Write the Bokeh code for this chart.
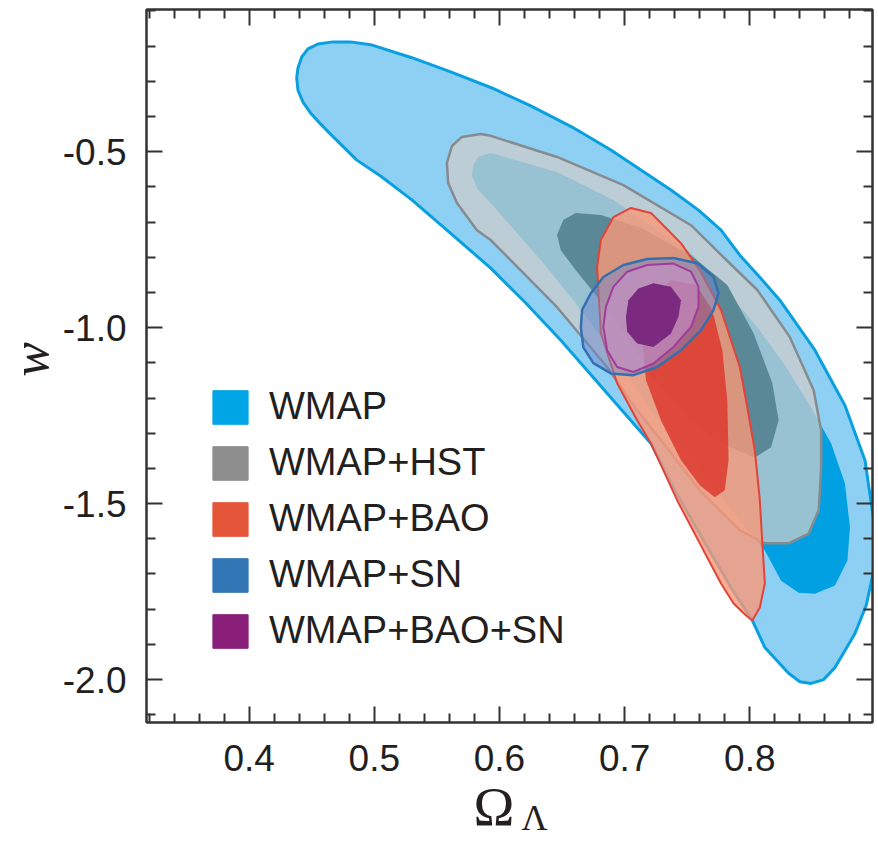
from bokeh.plotting import figure
from bokeh.models import (Range1d, LinearAxis, FixedTicker, PrintfTickFormatter,
                          CustomJSTickFormatter, Title)
from bokeh.embed import file_html
from bokeh.resources import INLINE

NAN = float("nan")

# ---------------- axes / ticks ----------------
x_lim = (0.318, 0.898)
y_lim = (-2.122, -0.096)
x_major = [0.4, 0.5, 0.6, 0.7, 0.8]
x_minor = [0.32, 0.34, 0.36, 0.38, 0.42, 0.44, 0.46, 0.48, 0.52, 0.54, 0.56, 0.58,
           0.62, 0.64, 0.66, 0.68, 0.72, 0.74, 0.76, 0.78, 0.82, 0.84, 0.86, 0.88]
y_major = [-2.0, -1.5, -1.0, -0.5]
y_minor = [-2.1, -1.9, -1.8, -1.7, -1.6, -1.4, -1.3, -1.2, -1.1, -0.9, -0.8, -0.7,
           -0.6, -0.4, -0.3, -0.2, -0.1]

legend_labels = ["WMAP", "WMAP+HST", "WMAP+BAO", "WMAP+SN", "WMAP+BAO+SN"]
legend_colors = ["#00a5e6", "#8e8e8e", "#e4553a", "#3275b5", "#8a1f7a"]

# ---------------- contours ----------------
wmap95_x = [0.438, 0.439, 0.442, 0.447, 0.455, 0.467, 0.481, 0.497, 0.530, 0.561, 0.594,
            0.625, 0.658, 0.689, 0.713, 0.737, 0.759, 0.777, 0.792, 0.808, 0.824, 0.852,
            0.876, 0.892, 0.899, 0.899, 0.893, 0.884, 0.868, 0.859, 0.849, 0.840, 0.831,
            0.812, 0.802, 0.784, 0.763, 0.740, 0.721, 0.691, 0.649, 0.621, 0.593, 0.561,
            0.530, 0.505, 0.486, 0.465, 0.457, 0.449, 0.443, 0.439]
wmap95_y = [-0.290, -0.262, -0.231, -0.208, -0.194, -0.188, -0.188, -0.196, -0.233, -0.273,
            -0.319, -0.370, -0.430, -0.495, -0.552, -0.609, -0.666, -0.723, -0.794, -0.857,
            -0.922, -1.064, -1.221, -1.377, -1.548, -1.690, -1.789, -1.869, -1.966, -2.000,
            -2.011, -2.006, -1.982, -1.909, -1.832, -1.733, -1.605, -1.462, -1.329, -1.207,
            -1.036, -0.930, -0.831, -0.732, -0.637, -0.569, -0.524, -0.450, -0.421, -0.390,
            -0.359, -0.325]

wmap68_x = [0.579, 0.583, 0.593, 0.646, 0.691, 0.753, 0.779, 0.806, 0.828, 0.848, 0.865,
            0.876, 0.880, 0.878, 0.868, 0.852, 0.839, 0.825, 0.812, 0.792, 0.760, 0.721,
            0.689, 0.659, 0.633, 0.593, 0.583, 0.578]
wmap68_y = [-0.538, -0.515, -0.504, -0.558, -0.637, -0.788, -0.885, -0.999, -1.107, -1.221,
            -1.329, -1.443, -1.568, -1.662, -1.733, -1.756, -1.753, -1.719, -1.633, -1.548,
            -1.405, -1.235, -1.064, -0.922, -0.808, -0.646, -0.609, -0.569]

hst95_x = [0.558, 0.562, 0.570, 0.585, 0.593, 0.646, 0.699, 0.753, 0.779, 0.806, 0.832,
           0.851, 0.857, 0.857, 0.855, 0.847, 0.831, 0.812, 0.792, 0.760, 0.729, 0.710,
           0.686, 0.646, 0.593, 0.582, 0.566, 0.559]
hst95_y = [-0.532, -0.484, -0.458, -0.450, -0.455, -0.515, -0.595, -0.709, -0.800, -0.893,
           -1.027, -1.178, -1.292, -1.397, -1.519, -1.585, -1.613, -1.613, -1.576, -1.462,
           -1.320, -1.235, -1.112, -0.942, -0.751, -0.723, -0.646, -0.589]

hst68_x = [0.646, 0.651, 0.661, 0.681, 0.713, 0.753, 0.782, 0.803, 0.818, 0.823, 0.817,
           0.804, 0.790, 0.773, 0.753, 0.721, 0.697, 0.677, 0.661, 0.649]
hst68_y = [-0.737, -0.694, -0.674, -0.680, -0.717, -0.794, -0.879, -1.016, -1.158, -1.263,
           -1.340, -1.369, -1.349, -1.320, -1.263, -1.135, -1.007, -0.908, -0.837, -0.780]

bao95_x = [0.705, 0.691, 0.681, 0.678, 0.681, 0.694, 0.710, 0.721, 0.742, 0.763, 0.777,
           0.787, 0.797, 0.802, 0.808, 0.812, 0.810, 0.808, 0.804, 0.797, 0.792, 0.777,
           0.760, 0.745, 0.721]
bao95_y = [-0.660, -0.686, -0.751, -0.828, -1.016, -1.158, -1.263, -1.329, -1.491, -1.633,
           -1.727, -1.784, -1.818, -1.832, -1.795, -1.727, -1.613, -1.491, -1.349, -1.207,
           -1.112, -0.950, -0.837, -0.760, -0.674]

bao68_x = [0.721, 0.714, 0.717, 0.729, 0.745, 0.760, 0.772, 0.780, 0.783, 0.782, 0.778,
           0.770, 0.757, 0.737]
bao68_y = [-0.922, -1.036, -1.149, -1.263, -1.377, -1.448, -1.482, -1.462, -1.377, -1.207,
           -1.064, -0.950, -0.879, -0.865]

sn95_x = [0.665, 0.666, 0.673, 0.683, 0.699, 0.718, 0.739, 0.758, 0.771, 0.775, 0.771,
          0.761, 0.745, 0.726, 0.707, 0.689, 0.675, 0.667]
sn95_y = [-0.999, -0.950, -0.902, -0.856, -0.822, -0.805, -0.802, -0.817, -0.856, -0.902,
          -0.950, -1.007, -1.064, -1.112, -1.135, -1.130, -1.101, -1.056]

baosn95_x = [0.683, 0.685, 0.691, 0.702, 0.718, 0.739, 0.753, 0.759, 0.759, 0.753, 0.739,
             0.723, 0.707, 0.694, 0.686]
baosn95_y = [-0.998, -0.941, -0.884, -0.841, -0.822, -0.818, -0.841, -0.884, -0.941, -0.998,
             -1.055, -1.102, -1.126, -1.112, -1.064]

baosn68_x = [0.701, 0.703, 0.711, 0.723, 0.737, 0.745, 0.743, 0.737, 0.723, 0.710, 0.702]
baosn68_y = [-0.969, -0.922, -0.889, -0.874, -0.884, -0.922, -0.969, -1.017, -1.055, -1.045,
             -1.012]

# ---------------- figure ----------------
p = figure(width=878, height=843, x_range=Range1d(*x_lim), y_range=Range1d(*y_lim),
           output_backend="svg", toolbar_location=None,
           min_border_left=146, min_border_right=6, min_border_top=9, min_border_bottom=121)
p.grid.visible = False
p.outline_line_color = "#333333"
p.outline_line_width = 2

xb = p.below[0]
yl = p.left[0]

# contours
p.patch(wmap95_x, wmap95_y, fill_color="#8ed0f4", line_color="#0aa0e0", line_width=3)
p.patch(wmap68_x, wmap68_y, fill_color="#00a0e2", line_alpha=0)
p.patch(hst95_x, hst95_y, fill_color="#cbcccb", fill_alpha=0.75, line_color="#868b90", line_width=2.5)
p.patch(hst68_x, hst68_y, fill_color="#5a8896", line_alpha=0)
p.patch(bao95_x, bao95_y, fill_color="#fa9878", fill_alpha=0.8, line_color="#e0443a", line_width=2)
p.patch(bao68_x, bao68_y, fill_color="#dc3328", fill_alpha=0.8, line_alpha=0)
p.patch(sn95_x, sn95_y, fill_color="#7088cc", fill_alpha=0.5, line_color="#3470b0", line_width=2.5)
p.patch(baosn95_x, baosn95_y, fill_color="#c890c8", fill_alpha=0.6, line_color="#a03c9c", line_width=2)
p.patch(baosn68_x, baosn68_y, fill_color="#7b2a80", line_alpha=0)

# legend proxies (one NaN row each, so nothing is drawn in the plot)
for lab, col in zip(legend_labels, legend_colors):
    p.quad(left=[NAN], right=[NAN], top=[NAN], bottom=[NAN], fill_color=col,
           line_color=col, legend_label=lab)

lg = p.legend[0]
lg.location = (62, 70)
lg.padding = 0
lg.margin = 0
lg.spacing = 13
lg.glyph_width = 44
lg.glyph_height = 42
lg.label_height = 42
lg.label_standoff = 17
lg.label_text_font = "Liberation Sans"
lg.label_text_font_size = "38px"
lg.label_text_color = "#231f20"
lg.border_line_alpha = 0
lg.background_fill_alpha = 0

FONT = "Liberation Sans"
SERIF = "Liberation Serif"
xt = FixedTicker(ticks=x_major, minor_ticks=x_minor)
yt = FixedTicker(ticks=y_major, minor_ticks=y_minor)


def style(ax, ticker, labels=True):
    ax.ticker = ticker
    ax.axis_line_color = "#333333"
    ax.axis_line_width = 2
    ax.major_tick_line_color = "#333333"
    ax.minor_tick_line_color = "#333333"
    ax.major_tick_line_width = 2
    ax.minor_tick_line_width = 2
    ax.major_tick_in = 16
    ax.major_tick_out = 0
    ax.minor_tick_in = 9
    ax.minor_tick_out = 0
    ax.major_label_text_font = FONT
    ax.major_label_text_color = "#231f20"
    if labels:
        ax.formatter = PrintfTickFormatter(format="%.1f")
        ax.major_label_text_font_size = "37px"
    else:
        ax.formatter = CustomJSTickFormatter(code="return ''")
        ax.major_label_text_font_size = "1px"
        ax.major_label_standoff = 0


style(xb, xt)
style(yl, yt)
xb.major_label_standoff = 22
yl.major_label_standoff = 20

top = LinearAxis()
style(top, xt, labels=False)
p.add_layout(top, "above")
right = LinearAxis()
style(right, yt, labels=False)
p.add_layout(right, "right")

# axis titles (as Title annotations in the side panels)
p.add_layout(Title(text="\u00a0w", align="center", vertical_align="top", standoff=-2,
                   text_font=SERIF, text_font_style="italic", text_font_size="52px",
                   text_color="#231f20"), "left")
p.add_layout(Title(text="\u03a9", align="left", offset=327, vertical_align="top",
                   standoff=4, text_font=SERIF, text_font_style="normal",
                   text_font_size="55px", text_color="#231f20"), "below")
p.add_layout(Title(text="\u039b", align="left", offset=375, vertical_align="top",
                   standoff=-85, text_font=SERIF, text_font_style="normal",
                   text_font_size="36px", text_color="#231f20"), "below")

open("out.html", "w").write(file_html(p, INLINE))
